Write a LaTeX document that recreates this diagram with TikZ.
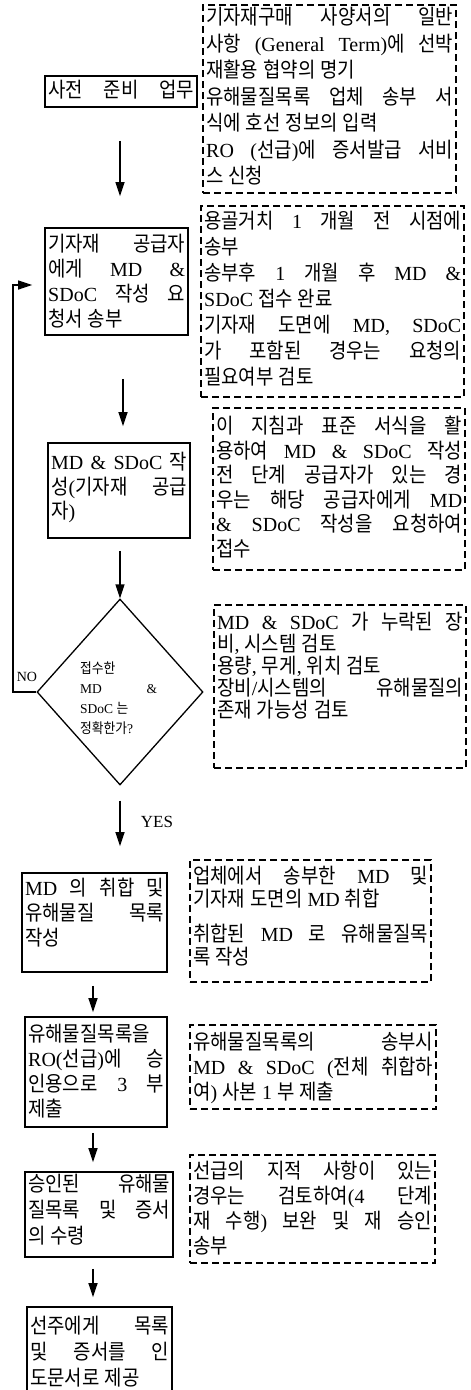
\documentclass[tikz,border=0pt]{standalone}
\usepackage{fontspec}
\setmainfont{Liberation Serif}
\newfontfamily\krfont{Noto Sans CJK KR}[Scale=1.05,FakeStretch=0.9]
\usetikzlibrary{arrows.meta,shapes.geometric,fit}
\XeTeXinterchartokenstate=1
\chardef\krclass=10
\newcount\hgc
\hgc="AC00
\loop\ifnum\hgc<"D7A4 \XeTeXcharclass\hgc=10 \advance\hgc by 1 \repeat
\XeTeXinterchartoks 0 10={\krfont}
\XeTeXinterchartoks 1 10={\krfont}
\XeTeXinterchartoks 2 10={\krfont}
\XeTeXinterchartoks 3 10={\krfont}
\XeTeXinterchartoks 4095 10={\krfont}
\XeTeXinterchartoks 10 0={\rmfamily}
\XeTeXinterchartoks 10 1={\rmfamily}
\XeTeXinterchartoks 10 2={\rmfamily}
\XeTeXinterchartoks 10 3={\rmfamily}
\XeTeXinterchartoks 10 4095={\rmfamily}
\newcommand\linej[1]{\hbox to\hsize{#1}}
\newcommand\linel[1]{\hbox to\hsize{#1\hfil}}
\newcommand\tb[3]{\vtop{\hsize=#1pt\baselineskip=#2pt\lineskiplimit=-100pt\lineskip=0pt\relax #3}}
\tikzset{
  sbox/.style={draw=black, line width=1.6pt, inner sep=0pt},
  dbox/.style={draw=black, line width=1.2pt, dash pattern=on 7pt off 4pt, inner sep=0pt},
  txt/.style={inner sep=0pt, anchor=base west, font=\fontsize{20}{24}\selectfont},
  smalltxt/.style={inner sep=0pt, anchor=base west, font=\fontsize{13.5}{16}\selectfont},
  lbl/.style={inner sep=0pt},
  arr/.style={line width=1.3pt, -{Triangle[length=14pt,width=9pt]}}
}
\begin{document}
\begin{tikzpicture}[x=1pt,y=-1pt]
\useasboundingbox (0,0) rectangle (471,1390);
% ---------- solid boxes ----------
\node[sbox, fit={(45,76)(197,107)}] (A) {};
\node[txt] (At) at (48,97.5) {\tb{146}{24}{\linej{사전 준비 업무}}};

\node[sbox, fit={(45,228)(188,335)}] (B) {};
\node[txt] (Bt) at (48,251.5) {\tb{137}{25}{\linej{기자재 공급자}\linej{에게 MD \&}\linej{SDoC 작성 요}\linel{청서 송부}}};

\node[sbox, fit={(48,443)(190,538)}] (C) {};
\node[txt] (Ct) at (51,469.5) {\tb{136}{24.5}{\linej{MD \& SDoC 작}\linej{성(기자재 공급}\linel{자)}}};

\node[diamond, draw=black, line width=1.3pt, minimum width=166pt, minimum height=186pt, inner sep=0pt] (Q) at (120,692) {};
\node[smalltxt] (Qt) at (80,673) {\tb{77}{20}{\linel{접수한}\linej{MD \&}\linel{SDoC 는}\linel{정확한가?}}};

\node[sbox, fit={(22,873)(167,972)}] (E) {};
\node[txt] (Et) at (25,895.5) {\tb{139}{25}{\linej{MD 의 취합 및}\linej{유해물질 목록}\linel{작성}}};

\node[sbox, fit={(25,1017)(167,1127)}] (F) {};
\node[txt] (Ft) at (28,1041.5) {\tb{136}{25}{\linej{유해물질목록을}\linej{RO(선급)에 승}\linej{인용으로 3 부}\linel{제출}}};

\node[sbox, fit={(25,1172)(173,1257)}] (G) {};
\node[txt] (Gt) at (28,1191.5) {\tb{142}{26}{\linej{승인된 유해물}\linej{질목록 및 증서}\linel{의 수령}}};

\node[sbox, fit={(27,1307)(172,1397)}] (H) {};
\node[txt] (Ht) at (30,1333.5) {\tb{139}{26}{\linej{선주에게 목록}\linej{및 증서를 인}\linel{도문서로 제공}}};

% ---------- dashed note boxes ----------
\node[dbox, fit={(203,5)(456,193)}] (D1) {};
\node[txt] (D1t) at (206,24.5) {\tb{247}{26.5}{%
\linej{기자재구매 사양서의 일반}%
\linej{사항 (General Term)에 선박}%
\linel{재활용 협약의 명기}%
\linej{유해물질목록 업체 송부 서}%
\linel{식에 호선 정보의 입력}%
\linej{RO (선급)에 증서발급 서비}%
\linel{스 신청}}};

\node[dbox, fit={(201,206)(464,397)}] (D2) {};
\node[txt] (D2t) at (204,228.5) {\tb{257}{26}{%
\linej{용골거치 1 개월 전 시점에}%
\linel{송부}%
\linej{송부후 1 개월 후 MD \&}%
\linel{SDoC 접수 완료}%
\linej{기자재 도면에 MD, SDoC}%
\linej{가 포함된 경우는 요청의}%
\linel{필요여부 검토}}};

\node[dbox, fit={(213,408)(465,570)}] (D3) {};
\node[txt] (D3t) at (216,433.5) {\tb{246}{24.5}{%
\linej{이 지침과 표준 서식을 활}%
\linej{용하여 MD \& SDoC 작성}%
\linej{전 단계 공급자가 있는 경}%
\linej{우는 해당 공급자에게 MD}%
\linej{\& SDoC 작성을 요청하여}%
\linel{접수}}};

\node[dbox, fit={(214,605)(466,768)}] (D4) {};
\node[txt] (D4t) at (217,629.5) {\tb{246}{22}{%
\linej{MD \& SDoC 가 누락된 장}%
\linel{비, 시스템 검토}%
\linel{용량, 무게, 위치 검토}%
\linej{장비/시스템의 유해물질의}%
\linel{존재 가능성 검토}}};

\node[dbox, fit={(190,860)(431,982)}] (D5) {};
\node[txt] (D5t) at (193,883.5) {\tb{235}{23}{%
\linej{업체에서 송부한 MD 및}%
\linel{기자재 도면의 MD 취합}\vskip12pt
\linej{취합된 MD 로 유해물질목}%
\linel{록 작성}}};

\node[dbox, fit={(190,1025)(436,1109)}] (D6) {};
\node[txt] (D6t) at (193,1049.5) {\tb{240}{25}{%
\linej{유해물질목록의 송부시}%
\linej{MD \& SDoC (전체 취합하}%
\linel{여) 사본 1 부 제출}}};

\node[dbox, fit={(190,1155)(435,1263)}] (D7) {};
\node[txt] (D7t) at (193,1178.5) {\tb{239}{25}{%
\linej{선급의 지적 사항이 있는}%
\linej{경우는 검토하여(4 단계}%
\linej{재 수행) 보완 및 재 승인}%
\linel{송부}}};

% ---------- labels ----------
\node[lbl, font=\fontsize{14}{16}\selectfont] (NO) at (27,677) {NO};
\node[lbl, font=\fontsize{17}{19}\selectfont] (YES) at (157,822) {YES};

% ---------- connectors ----------
\draw[arr, shorten <=33pt, shorten >=31pt] ([xshift=-1pt]A.south) -- ([xshift=-1pt]A.south |- B.north);
\draw[arr, shorten <=43pt, shorten >=16pt] ([xshift=6.5pt]B.south) -- ([xshift=6.5pt]B.south |- C.north);
\draw[arr, shorten <=12pt] ([xshift=1pt]C.south) -- (Q.north);
\draw[arr, shorten <=15pt, shorten >=26pt] (Q.south) -- (Q.south |- E.north);
\draw[arr, shorten <=13pt, shorten >=4pt] ([xshift=-1.5pt]E.south) -- ([xshift=-1.5pt]E.south |- F.north);
\draw[arr, shorten <=5pt, shorten >=9pt] ([xshift=-3pt]F.south) -- ([xshift=-3pt]F.south |- G.north);
\draw[arr, shorten <=11pt, shorten >=9pt] ([xshift=-6pt]G.south) -- ([xshift=-6pt]G.south |- H.north);
\coordinate (fb) at (13,285);
\draw[arr, shorten >=12pt] (Q.west) -| (fb) -- (fb -| B.west);
\end{tikzpicture}
\end{document}
